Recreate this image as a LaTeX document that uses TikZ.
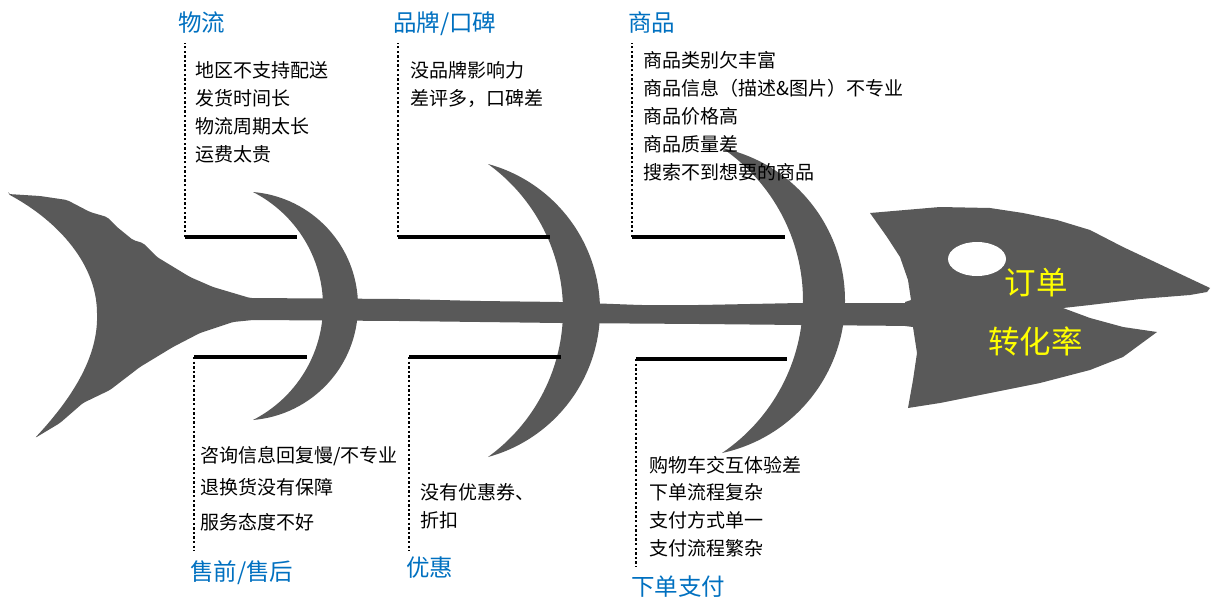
\documentclass[tikz,border=0pt]{standalone}
\usepackage{fontspec}
\newfontfamily\cjk{Noto Sans CJK SC}
\definecolor{fish}{RGB}{89,89,89}
\definecolor{titleblue}{RGB}{0,112,192}
\definecolor{headyellow}{RGB}{255,255,0}
\begin{document}
\begin{tikzpicture}[x=1pt,y=-1pt]
      \useasboundingbox (0,0) rectangle (1212,615);

      \begin{scope}[fill=fish]
        \fill[rounded corners=2pt] (8,194) -- (40,196) -- (67,200) -- (90,212) -- (107,217) -- (117,227) -- (133,240)
          -- (143,243) -- (157,257) -- (190,277) -- (213,287) -- (250,298) -- (400,299) -- (480,301)
          -- (560,302) -- (640,305) -- (700,305) -- (800,303) -- (915,303) -- (915,326) -- (800,325)
          -- (700,324) -- (560,323) -- (400,321) -- (253,320) -- (233,322) -- (200,333) -- (173,347)
          -- (140,367) -- (110,390) -- (83,403) -- (60,423) -- (35,438)
          .. controls (75,395) and (98,355) .. (97,313) .. controls (96,265) and (60,222) .. (8,194) -- cycle;
        \fill (870,213) -- (940,207) -- (990,208) -- (1023,213) -- (1057,220) -- (1090,230) -- (1123,247)
          -- (1157,263) -- (1193,280) -- (1210,288) -- (1207,292) -- (1190,295) -- (1140,299) -- (1090,305)
          -- (1063,308) -- (1090,318) -- (1123,327) -- (1157,332) -- (1123,357) -- (1090,370) -- (1040,383)
          -- (990,393) -- (940,403) -- (908,408) -- (913,380) -- (917,353) -- (913,327) -- (905,326)
          -- (905,302) -- (911,300) -- (908,280) -- (900,257) -- (887,237) -- cycle;
        \fill (253,192) .. controls (312,197) and (358,246) .. (358,306) .. controls (358,366) and (312,415) .. (253,420)
          .. controls (296,398) and (323,354) .. (323,306) .. controls (323,258) and (296,214) .. (253,192) -- cycle;
        \fill (488,164) .. controls (554,182) and (600,242) .. (600,310.5) .. controls (600,379) and (554,439) .. (488,457)
          .. controls (535,423) and (563,368.5) .. (563,310.5) .. controls (563,252.5) and (535,198) .. (488,164) -- cycle;
        \fill (722,148) .. controls (794,163.5) and (845,227) .. (845,300.5) .. controls (845,374) and (794,437.5) .. (722,453)
          .. controls (772.6,418.8) and (803,361.6) .. (803,300.5) .. controls (803,239.4) and (772.6,182.2) .. (722,148) -- cycle;
      \end{scope}
      \fill[white] (977,259) ellipse [x radius=29, y radius=17];

      \coordinate (t1)  at (185,237);
      \coordinate (t1e) at (297,237);
      \coordinate (t1u) at (185,43);
      \coordinate (t2)  at (398,237);
      \coordinate (t2e) at (550,237);
      \coordinate (t2u) at (398,43);
      \coordinate (t3)  at (632,237);
      \coordinate (t3e) at (785,237);
      \coordinate (t3u) at (632,43);
      \coordinate (b1)  at (194,357);
      \coordinate (b1e) at (307,357);
      \coordinate (b1d) at (194,551);
      \coordinate (b2)  at (409,357);
      \coordinate (b2e) at (561,357);
      \coordinate (b2d) at (409,551);
      \coordinate (b3)  at (636,359);
      \coordinate (b3e) at (787,359);
      \coordinate (b3d) at (636,567);

      \begin{scope}[line width=3.2pt]
        \draw (t1) -- (t1e);
        \draw (t2) -- (t2e);
        \draw (t3) -- (t3e);
        \draw (b1) -- (b1e);
        \draw (b2) -- (b2e);
        \draw (b3) -- (b3e);
      \end{scope}

      \begin{scope}[line width=2.8pt, dash pattern=on 2.4pt off 2.2pt]
        \draw (t1) -- (t1u);
        \draw (t2) -- (t2u);
        \draw (t3) -- (t3u);
        \draw (b1) -- (b1d);
        \draw (b2) -- (b2d);
        \draw (b3) -- (b3d);
      \end{scope}

      \begin{scope}[every node/.style={font=\cjk\fontsize{23.5}{26}\selectfont,text=titleblue,anchor=base west,inner sep=0}]
        \node (w)  at (178,32)  {物流};
        \node (p)  at (393,32)  {品牌/口碑};
        \node (s)  at (628,32)  {商品};
        \node (f)  at (190,580) {售前/售后};
        \node (y)  at (406,576) {优惠};
        \node (x)  at (631,595) {下单支付};
      \end{scope}

      \begin{scope}[every node/.style={font=\cjk\fontsize{19}{22}\selectfont,anchor=base west,inner sep=0}]
        \node (w1) at (195,77.5)  {地区不支持配送};
        \node (w2) at (195,105.5) {发货时间长};
        \node (w3) at (195,133.5) {物流周期太长};
        \node (w4) at (195,161.5) {运费太贵};
        \node (p1) at (410,77.5)  {没品牌影响力};
        \node (p2) at (410,105.5) {差评多，口碑差};
        \node (s1) at (643,67.5)  {商品类别欠丰富};
        \node (s2) at (643,95.4)  {商品信息（描述\&图片）不专业};
        \node (s3) at (643,123.3) {商品价格高};
        \node (s4) at (643,151.2) {商品质量差};
        \node (s5) at (643,179)   {搜索不到想要的商品};
        \node (f1) at (200,462)   {咨询信息回复慢/不专业};
        \node (f2) at (200,494)   {退换货没有保障};
        \node (f3) at (200,529.5) {服务态度不好};
        \node (y1) at (420,499)   {没有优惠券、};
        \node (y2) at (420,527)   {折扣};
        \node (x1) at (649,472.5) {购物车交互体验差};
        \node (x2) at (649,499.5) {下单流程复杂};
        \node (x3) at (649,527.5) {支付方式单一};
        \node (x4) at (649,555.5) {支付流程繁杂};
      \end{scope}

      \begin{scope}[every node/.style={font=\cjk\fontsize{31.5}{34}\selectfont,text=headyellow,anchor=base,inner sep=0}]
        \node (h1) at (1036,294.5) {订单};
        \node (h2) at (1035.5,353) {转化率};
      \end{scope}

    \end{tikzpicture}
\end{document}
